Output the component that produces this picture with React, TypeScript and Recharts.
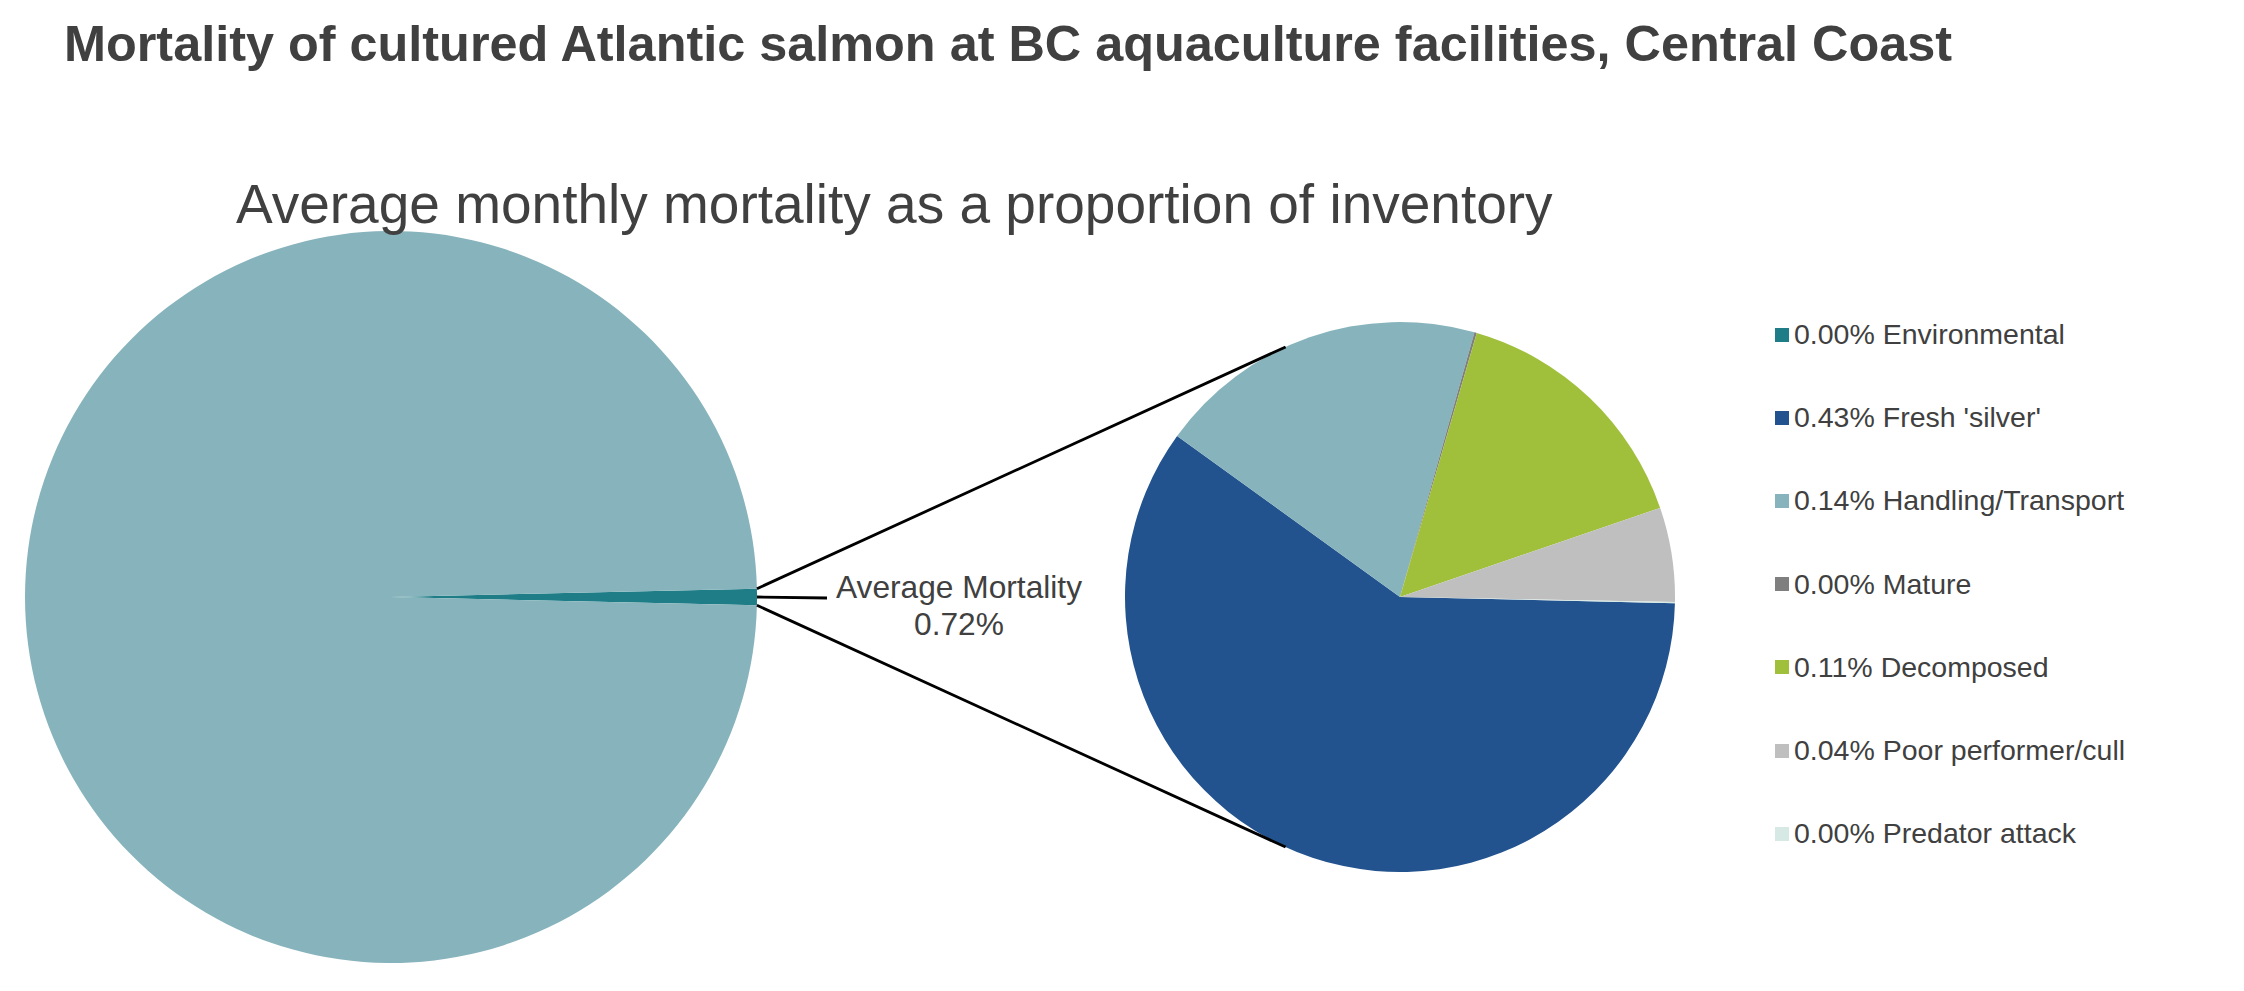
import { PieChart, Pie, Cell, Legend } from 'recharts'

// primary pie: share of inventory lost each month
const overviewNames = ['Average Mortality', 'Remaining inventory']
const overviewValues = [0.72, 99.28]
const overviewColors = ['#1E7D87', '#87B4BC']

// secondary pie: breakdown of the mortality by cause (% of inventory)
const causeNames = [
  'Environmental',
  "Fresh 'silver'",
  'Handling/Transport',
  'Mature',
  'Decomposed',
  'Poor performer/cull',
  'Predator attack',
]
const causeValues = [0, 0.43, 0.14, 0.001, 0.11, 0.04, 0.0005]
const causeColors = ['#1E7D87', '#22538F', '#87B4BC', '#7F7F7F', '#A0C03C', '#BFBFBF', '#D6E9E4']

const TITLE = 'Mortality of cultured Atlantic salmon at BC aquaculture facilities, Central Coast'
const SUBTITLE = 'Average monthly mortality as a proportion of inventory'

const W = 2244
const H = 991
const FONT = '"Liberation Sans", Arial, sans-serif'
const TEXT = '#404040'
const LINE_W = 2.8

const LEFT = { cx: 391, cy: 597, r: 366 }
const RIGHT = { cx: 1400, cy: 597, r: 275 }

const overviewData = overviewNames.map((name, i) => ({ name, value: overviewValues[i] }))
const causeData = causeNames.map((name, i) => ({ name, value: causeValues[i] }))

const overviewTotal = overviewValues.reduce((s, v) => s + v, 0)
// the mortality slice is centred on 3 o'clock
const halfSlice = ((overviewValues[0] / overviewTotal) * 360) / 2

const fmtPct = (v: number) => `${v.toFixed(2)}%`

const RAD = Math.PI / 180

/** tangent point on the right pie seen from point (px, py) */
function tangentPoint(px: number, py: number, upper: boolean) {
  const dx = px - RIGHT.cx
  const dy = py - RIGHT.cy
  const d = Math.sqrt(dx * dx + dy * dy)
  const phi = Math.atan2(dy, dx)
  const alpha = Math.acos(RIGHT.r / d)
  const a = upper ? phi + alpha : phi - alpha
  return { x: RIGHT.cx + RIGHT.r * Math.cos(a), y: RIGHT.cy + RIGHT.r * Math.sin(a) }
}

function renderAvgLabel(props: any) {
  if (props.index !== 0) return null
  const { cx, cy, outerRadius, midAngle } = props
  const x0 = cx + outerRadius * Math.cos(-midAngle * RAD)
  const y0 = cy + outerRadius * Math.sin(-midAngle * RAD)
  const tx = x0 + 202
  return (
    <g>
      <line x1={x0} y1={y0} x2={x0 + 70} y2={y0 + 1} stroke="#000" strokeWidth={LINE_W} />
      <text textAnchor="middle" fill={TEXT} fontSize={31.7} fontFamily={FONT}>
        <tspan x={tx} y={y0 + 1}>{overviewNames[0]}</tspan>
        <tspan x={tx} y={y0 + 38}>{fmtPct(overviewValues[0])}</tspan>
      </text>
    </g>
  )
}

function renderLegend() {
  return (
    <div style={{ fontFamily: FONT, fontSize: 28.5, color: TEXT }}>
      {causeNames.map((name, i) => (
        <div key={name} style={{ height: 83.2, display: 'flex', alignItems: 'center' }}>
          <span
            style={{ width: 14, height: 14, background: causeColors[i], marginRight: 5, flexShrink: 0 }}
          />
          <span style={{ whiteSpace: 'nowrap' }}>
            {fmtPct(causeValues[i])} {name}
          </span>
        </div>
      ))}
    </div>
  )
}

export default function App() {
  const p1 = {
    x: LEFT.cx + LEFT.r * Math.cos(halfSlice * RAD),
    y: LEFT.cy - LEFT.r * Math.sin(halfSlice * RAD),
  }
  const p2 = { x: p1.x, y: LEFT.cy + LEFT.r * Math.sin(halfSlice * RAD) }
  const t1 = tangentPoint(p1.x, p1.y, true)
  const t2 = tangentPoint(p2.x, p2.y, false)

  return (
    <div style={{ position: 'absolute', left: 0, top: 0, width: W, height: H, background: '#fff' }}>
      <PieChart width={W} height={H} margin={{ top: 0, right: 0, bottom: 0, left: 0 }}>
        <Pie
          data={overviewData}
          dataKey="value"
          nameKey="name"
          cx={LEFT.cx}
          cy={LEFT.cy}
          outerRadius={LEFT.r}
          startAngle={-halfSlice}
          endAngle={360 - halfSlice}
          label={renderAvgLabel}
          labelLine={false}
          legendType="none"
          isAnimationActive={false}
        >
          {overviewData.map((d, i) => (
            <Cell key={d.name} fill={overviewColors[i]} stroke="none" />
          ))}
        </Pie>
        <Pie
          data={causeData}
          dataKey="value"
          nameKey="name"
          cx={RIGHT.cx}
          cy={RIGHT.cy}
          outerRadius={RIGHT.r}
          startAngle={-1.3}
          endAngle={-361.3}
          isAnimationActive={false}
        >
          {causeData.map((d, i) => (
            <Cell key={d.name} fill={causeColors[i]} stroke="none" />
          ))}
        </Pie>
        <Legend
          layout="vertical"
          align="right"
          verticalAlign="top"
          content={renderLegend}
          wrapperStyle={{ left: 1775, top: 293, right: 'auto', bottom: 'auto', width: 460 }}
        />
      </PieChart>
      <svg
        width={W}
        height={H}
        style={{ position: 'absolute', left: 0, top: 0, pointerEvents: 'none' }}
      >
        <text x={64} y={61} fontFamily={FONT} fontWeight="bold" fontSize={50.4} fill={TEXT}>
          {TITLE}
        </text>
        <text x={236} y={223} fontFamily={FONT} fontSize={55} fill={TEXT}>
          {SUBTITLE}
        </text>
        <line x1={p1.x} y1={p1.y} x2={t1.x} y2={t1.y} stroke="#000" strokeWidth={LINE_W} />
        <line x1={p2.x} y1={p2.y} x2={t2.x} y2={t2.y} stroke="#000" strokeWidth={LINE_W} />
      </svg>
    </div>
  )
}
